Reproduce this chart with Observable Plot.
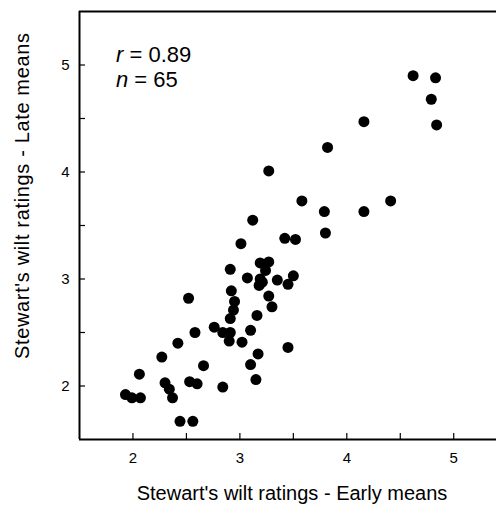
<!DOCTYPE html>
<html>
<head>
<meta charset="utf-8">
<script src="https://cdn.jsdelivr.net/npm/d3@7"></script>
<script src="https://cdn.jsdelivr.net/npm/@observablehq/plot@0.6"></script>
<style>
  html, body { margin: 0; padding: 0; background: white; }
  #chart svg { font-family: "Liberation Sans", Arial, sans-serif; display: block; }
</style>
</head>
<body>
<div id="chart"></div>
<script>
// Stewart's wilt ratings: early means (x) vs late means (y)
const earlyMeans = [
  4.62, 4.83, 4.79, 4.84, 4.16, 3.82, 3.27, 3.58, 4.41, 3.79,
  4.16, 3.12, 3.80, 3.42, 3.52, 3.01, 3.50, 3.35, 3.45, 3.45,
  2.91, 3.07, 3.19, 3.27, 3.24, 3.19, 3.18, 2.92, 2.95, 2.94,
  2.91, 3.27, 3.30, 3.16, 2.76, 2.84, 2.91, 2.90, 3.02, 3.10,
  3.17, 3.10, 2.66, 3.15, 2.52, 2.58, 2.42, 2.27, 2.06, 2.30,
  2.34, 2.37, 2.53, 2.60, 2.84, 1.93, 1.99, 2.07, 2.44, 2.56,
  3.21
];
const lateMeans = [
  4.90, 4.88, 4.68, 4.44, 4.47, 4.23, 4.01, 3.73, 3.73, 3.63,
  3.63, 3.55, 3.43, 3.38, 3.37, 3.33, 3.03, 2.99, 2.95, 2.36,
  3.09, 3.01, 3.15, 3.16, 3.08, 3.00, 2.94, 2.89, 2.79, 2.71,
  2.63, 2.84, 2.74, 2.66, 2.55, 2.50, 2.50, 2.42, 2.41, 2.52,
  2.30, 2.20, 2.19, 2.06, 2.82, 2.50, 2.40, 2.27, 2.11, 2.03,
  1.97, 1.89, 2.04, 2.02, 1.99, 1.92, 1.89, 1.89, 1.67, 1.67,
  2.97
];
const majorTicks = [2, 3, 4, 5];
const allTicks = [2, 2.5, 3, 3.5, 4, 4.5, 5];
const xTitle = "Stewart's wilt ratings - Early means";
const yTitle = "Stewart's wilt ratings - Late means";
const statR = "0.89";
const statN = "65";

const data = earlyMeans.map((e, i) => ({early: e, late: lateMeans[i]}));

const W = 496, H = 505;
const chart = Plot.plot({
  width: W,
  height: H,
  marginLeft: 79,
  marginRight: 0,
  marginTop: 11,
  marginBottom: 66,
  style: {fontFamily: '"Liberation Sans", Arial, sans-serif', fontSize: "15px", color: "#000", background: "white"},
  x: {domain: [1.5, 5.4]},
  y: {domain: [1.5, 5.5]},
  marks: [
    Plot.axisX({ticks: allTicks, tickSize: 6, dy: -6, tickFormat: () => "", strokeWidth: 1.2, label: null}),
    Plot.axisX({ticks: majorTicks, tickSize: 0, tickPadding: 13, fontSize: 15, tickFormat: d3.format("d"), label: null}),
    Plot.axisY({ticks: allTicks, tickSize: 6, dx: 6, tickFormat: () => "", strokeWidth: 1.2, label: null}),
    Plot.axisY({ticks: majorTicks, tickSize: 0, tickPadding: 10, fontSize: 15, tickFormat: d3.format("d"), label: null}),
    Plot.ruleX([1.5], {stroke: "black", strokeWidth: 2}),
    Plot.ruleY([1.5, 5.5], {stroke: "black", strokeWidth: 2}),
    Plot.dot(data, {x: "early", y: "late", r: 5.5, fill: "black", stroke: "none"})
  ]
});
document.getElementById("chart").appendChild(chart);

const svg = d3.select(chart);
svg.append("text")
  .attr("x", 292).attr("y", 500)
  .attr("text-anchor", "middle")
  .attr("font-size", 20)
  .attr("fill", "black")
  .text(xTitle);
svg.append("text")
  .attr("transform", "translate(29,196) rotate(-90)")
  .attr("text-anchor", "middle")
  .attr("font-size", 20)
  .attr("textLength", 326)
  .attr("lengthAdjust", "spacing")
  .attr("fill", "black")
  .text(yTitle);
const t1 = svg.append("text").attr("x", 116).attr("y", 62).attr("text-anchor", "start").attr("font-size", 22).attr("fill", "black");
t1.append("tspan").attr("font-style", "italic").text("r");
t1.append("tspan").text(" = " + statR);
const t2 = svg.append("text").attr("x", 116).attr("y", 87).attr("text-anchor", "start").attr("font-size", 22).attr("fill", "black");
t2.append("tspan").attr("font-style", "italic").text("n");
t2.append("tspan").text(" = " + statN);
</script>
</body>
</html>
